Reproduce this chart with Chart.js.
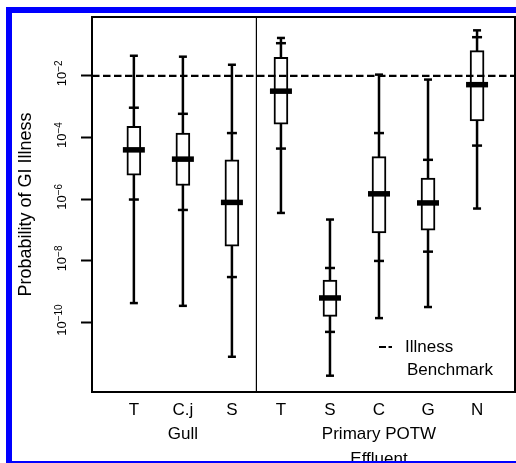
<!DOCTYPE html>
<html>
<head>
<meta charset="utf-8">
<script src="https://cdn.jsdelivr.net/npm/chart.js@4.4.1/dist/chart.umd.min.js"></script>
<style>
  body { margin: 0; background: #fff; }
  #wrap { position: relative; width: 516px; height: 463px; overflow: hidden; }
  #border { position: absolute; left: 6px; top: 7px; width: 600px; height: 448px;
            border-left: 6px solid #0000ff; border-top: 6px solid #0000ff; border-bottom: 6px solid #0000ff;
            pointer-events: none; }
</style>
</head>
<body>
<div id="wrap">
  <canvas id="chart" width="516" height="463"></canvas>
  <div id="border"></div>
</div>
<script>
// box plot summaries (probability of GI illness)
const categories = ['T', 'C.j', 'S', 'T', 'S', 'C', 'G', 'N'];
const groupLabels = [[], ['Gull'], [], [], [], ['Primary POTW', 'Effluent'], [], []];
const gullCount = 3;

const maxima     = [4.5e-2, 4.2e-2, 2.3e-2, 1.7e-1, 2.2e-7, 1.1e-2, 7.6e-3, 3.0e-1];
const upperTicks = [9.3e-4, 5.9e-4, 1.4e-4, 1.15e-1, 5.9e-9, 1.4e-4, 1.9e-5, 1.8e-1];
const q3         = [2.3e-4, 1.4e-4, 1.9e-5, 4.0e-2, 2.4e-9, 2.4e-5, 4.9e-6, 6.6e-2];
const medians    = [4.0e-5, 2.0e-5, 7.9e-7, 3.2e-3, 6.3e-10, 1.5e-6, 7.6e-7, 5.2e-3];
const q1         = [6.0e-6, 2.8e-6, 3.0e-8, 2.7e-4, 1.6e-10, 8.1e-8, 1.0e-7, 3.5e-4];
const lowerTicks = [9.8e-7, 4.5e-7, 3.0e-9, 4.4e-5, 5.0e-11, 1.0e-8, 2.0e-8, 5.5e-5];
const minima     = [4.3e-10, 3.5e-10, 7.8e-12, 3.6e-7, 1.9e-12, 1.4e-10, 3.2e-10, 5.0e-7];

const benchmark = 1e-2;
const yTicks = [1e-10, 1e-8, 1e-6, 1e-4, 1e-2];
const yMin = Math.pow(10, -12.25);
const yMax = Math.pow(10, -0.09);
const xMin = 0.146;
const xMax = 8.774;

const xs = categories.map((c, i) => i + 1);
const black = '#000';
const fontFamily = "'Liberation Sans', Arial, sans-serif";

// outer frame, the 10^n tick labels and the little legend in the corner
const framePlugin = {
    id: 'frame',
    afterDatasetsDraw(chart) {
        const { ctx, chartArea: a } = chart;
        ctx.save();
        ctx.strokeStyle = black;
        ctx.lineWidth = 2;
        ctx.strokeRect(a.left, a.top, a.right - a.left, a.bottom - a.top);

        ctx.setLineDash([7, 2.5]);
        ctx.beginPath();
        ctx.moveTo(a.right - 136, a.bottom - 45);
        ctx.lineTo(a.right - 123, a.bottom - 45);
        ctx.stroke();
        ctx.setLineDash([]);

        ctx.fillStyle = black;
        ctx.font = '17px ' + fontFamily;
        ctx.textBaseline = 'middle';
        ctx.fillText('Illness', a.right - 110, a.bottom - 45);
        ctx.fillText('Benchmark', a.right - 108, a.bottom - 22);
        ctx.restore();
    },
    afterDraw(chart) {
        const { ctx } = chart;
        const y = chart.scales.y;
        ctx.save();
        ctx.fillStyle = black;
        ctx.textBaseline = 'alphabetic';
        yTicks.forEach(v => {
            const base = '10';
            const exp = '\u2212' + String(-Math.round(Math.log10(v)));
            ctx.font = '13px ' + fontFamily;
            const w1 = ctx.measureText(base).width;
            ctx.font = '10px ' + fontFamily;
            const w2 = ctx.measureText(exp).width;
            const start = -(w1 + w2) / 2 + 2.5;
            ctx.save();
            ctx.translate(y.right - 31, y.getPixelForValue(v));
            ctx.rotate(-Math.PI / 2);
            ctx.font = '13px ' + fontFamily;
            ctx.fillText(base, start, 5);
            ctx.font = '10px ' + fontFamily;
            ctx.fillText(exp, start + w1, 0.5);
            ctx.restore();
        });
        ctx.restore();
    }
};

Chart.defaults.font.family = fontFamily;
Chart.defaults.color = black;

new Chart(document.getElementById('chart'), {
    type: 'scatter',
    data: {
        datasets: [
            {
                type: 'line',
                label: 'Illness Benchmark',
                data: [{ x: xMin, y: benchmark }, { x: xMax, y: benchmark }],
                borderColor: black,
                borderWidth: 2.3,
                borderDash: [7.5, 3.5],
                pointRadius: 0,
                order: 0
            },
            {
                label: 'median',
                data: xs.map((x, i) => ({ x: x, y: medians[i] })),
                pointStyle: 'line',
                pointRadius: 11,
                pointBorderWidth: 5.5,
                pointBorderColor: black,
                order: 1
            },
            {
                label: 'caps',
                data: xs.flatMap((x, i) => [{ x: x, y: maxima[i] }, { x: x, y: minima[i] }]),
                pointStyle: 'line',
                pointRadius: 4,
                pointBorderWidth: 2.5,
                pointBorderColor: black,
                order: 2
            },
            {
                label: 'ticks',
                data: xs.flatMap((x, i) => [{ x: x, y: upperTicks[i] }, { x: x, y: lowerTicks[i] }]),
                pointStyle: 'line',
                pointRadius: 5,
                pointBorderWidth: 2.5,
                pointBorderColor: black,
                order: 2
            },
            {
                type: 'bar',
                label: 'box',
                data: xs.map((x, i) => ({ x: x, y: [q1[i], q3[i]] })),
                backgroundColor: '#fff',
                borderColor: black,
                borderWidth: 2,
                borderSkipped: false,
                barThickness: 14,
                order: 3
            },
            {
                type: 'line',
                label: 'whiskers',
                data: xs.flatMap((x, i) => [{ x: x, y: maxima[i] }, { x: x, y: minima[i] }, { x: x, y: null }]),
                borderColor: black,
                borderWidth: 2.5,
                pointRadius: 0,
                spanGaps: false,
                order: 4
            },
            {
                type: 'line',
                label: 'separator',
                data: [{ x: gullCount + 0.5, y: yMax }, { x: gullCount + 0.5, y: yMin }],
                borderColor: black,
                borderWidth: 1,
                pointRadius: 0,
                order: 5
            }
        ]
    },
    options: {
        responsive: false,
        animation: false,
        events: [],
        layout: { autoPadding: false, padding: { left: 0, top: 17, right: 1, bottom: 0 } },
        plugins: {
            legend: { display: false },
            tooltip: { enabled: false }
        },
        scales: {
            x: {
                type: 'linear',
                min: xMin,
                max: xMax,
                bounds: 'data',
                offset: false,
                afterFit: s => {
                    s.height = 71;
                    s.paddingLeft = 0;
                    s.paddingRight = 0;
                },
                afterBuildTicks: s => { s.ticks = xs.map(v => ({ value: v })); },
                grid: { display: false, offset: false },
                border: { display: false },
                ticks: {
                    autoSkip: false,
                    minRotation: 0,
                    maxRotation: 0,
                    padding: -2,
                    font: { size: 17, lineHeight: 1.44 },
                    callback: (v, i) => [categories[i]].concat(groupLabels[i])
                }
            },
            y: {
                type: 'logarithmic',
                min: yMin,
                max: yMax,
                bounds: 'data',
                afterFit: s => { s.width = 92; },
                afterBuildTicks: s => { s.ticks = yTicks.map(v => ({ value: v })); },
                grid: {
                    drawOnChartArea: false,
                    drawTicks: true,
                    tickLength: 11,
                    tickWidth: 2,
                    tickColor: black
                },
                border: { display: false },
                ticks: { display: false },
                title: {
                    display: true,
                    text: 'Probability of GI Illness',
                    font: { size: 18 },
                    padding: { top: 15, bottom: 0 }
                }
            }
        }
    },
    plugins: [framePlugin]
});
</script>
</body>
</html>
